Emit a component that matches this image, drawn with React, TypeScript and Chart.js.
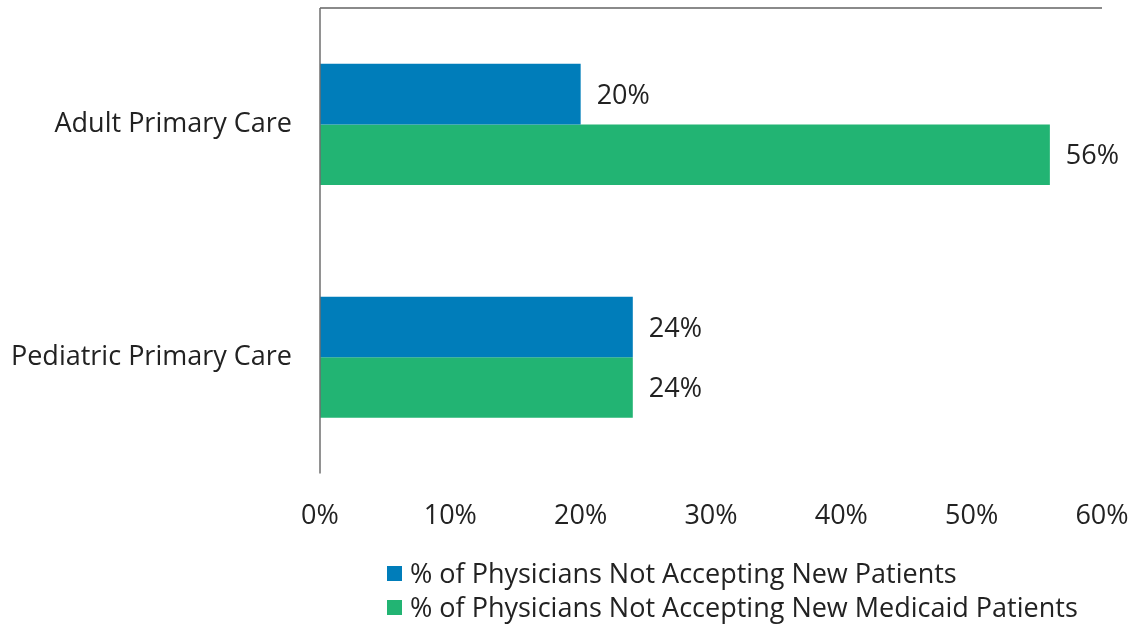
import React, { useEffect, useRef } from "react";
import { Chart, registerables } from "chart.js";

Chart.register(...registerables);

const categories = ["Adult Primary Care", "Pediatric Primary Care"];
const notAcceptingNew = [20, 24];
const notAcceptingMedicaid = [56, 24];
const seriesLabels = [
  "% of Physicians Not Accepting New Patients",
  "% of Physicians Not Accepting New Medicaid Patients",
];
const seriesColors = ["#007DBA", "#22B473"];
const xMin = 0;
const xMax = 60;
const xStep = 10;

const FONT = "'Open Sans', 'Noto Sans', sans-serif";
const FS = 27;

const framePlugin = {
  id: "frame",
  afterDraw(chart: any) {
    const { ctx, chartArea } = chart;
    ctx.save();
    ctx.strokeStyle = "#8a8a8a";
    ctx.lineWidth = 2;
    ctx.beginPath();
    ctx.moveTo(chartArea.left, chartArea.top);
    ctx.lineTo(chartArea.right, chartArea.top);
    ctx.stroke();
    ctx.strokeStyle = "#6e6e6e";
    ctx.lineWidth = 1.5;
    ctx.beginPath();
    ctx.moveTo(chartArea.left, chartArea.top);
    ctx.lineTo(chartArea.left, chartArea.bottom);
    ctx.stroke();
    ctx.restore();
  },
};

const valueLabelPlugin = {
  id: "valueLabels",
  afterDatasetsDraw(chart: any) {
    const { ctx } = chart;
    ctx.save();
    ctx.font = `${FS}px ${FONT}`;
    ctx.fillStyle = "#222";
    ctx.textAlign = "left";
    ctx.textBaseline = "middle";
    chart.data.datasets.forEach((ds: any, i: number) => {
      const meta = chart.getDatasetMeta(i);
      meta.data.forEach((bar: any, j: number) => {
        ctx.fillText(`${ds.data[j]}%`, bar.x + 16, bar.y + 2);
      });
    });
    ctx.restore();
  },
};

export default function App() {
  const ref = useRef<HTMLCanvasElement>(null);
  useEffect(() => {
    if (!ref.current) return;
    const chart = new Chart(ref.current, {
      type: "bar",
      data: {
        labels: categories,
        datasets: [
          {
            label: seriesLabels[0],
            data: notAcceptingNew,
            backgroundColor: seriesColors[0],
            categoryPercentage: 0.52,
            barPercentage: 1,
          },
          {
            label: seriesLabels[1],
            data: notAcceptingMedicaid,
            backgroundColor: seriesColors[1],
            categoryPercentage: 0.52,
            barPercentage: 1,
          },
        ],
      },
      options: {
        indexAxis: "y",
        animation: false,
        responsive: false,
        maintainAspectRatio: false,
        layout: { padding: { top: 8, right: 37, bottom: 64, left: 0 } },
        plugins: {
          legend: { display: false },
          tooltip: { enabled: false },
        },
        scales: {
          x: {
            min: xMin,
            max: xMax,
            grid: { display: false, drawTicks: false },
            border: { display: false },
            afterFit: (scale: any) => {
              scale.paddingLeft = 0;
              scale.paddingRight = 0;
            },
            ticks: {
              stepSize: xStep,
              padding: 27,
              color: "#222",
              font: { family: FONT, size: FS },
              callback: (v: any) => `${v}%`,
            },
          },
          y: {
            grid: { display: false, drawTicks: false },
            border: { display: false },
            afterFit: (scale: any) => {
              scale.width = 320;
              scale.paddingTop = 0;
              scale.paddingBottom = 0;
            },
            ticks: {
              padding: 28,
              color: "#222",
              font: { family: FONT, size: FS },
            },
          },
        },
      },
      plugins: [framePlugin, valueLabelPlugin],
    });
    return () => chart.destroy();
  }, []);

  return (
    <div style={{ position: "absolute", left: 0, top: 0, width: 1139, height: 624, background: "#fff" }}>
      <canvas ref={ref} width={1139} height={624} style={{ display: "block" }} />
      <div style={{ position: "absolute", left: 387, top: 556, fontFamily: FONT, fontSize: FS, color: "#222", lineHeight: "34px" }}>
        {seriesLabels.map((l, i) => (
          <div key={l} style={{ display: "flex", alignItems: "center", height: 34 }}>
            <span style={{ display: "inline-block", width: 15, height: 15, background: seriesColors[i], marginRight: 8, flex: "none" }} />
            <span style={{ whiteSpace: "nowrap" }}>{l}</span>
          </div>
        ))}
      </div>
    </div>
  );
}
